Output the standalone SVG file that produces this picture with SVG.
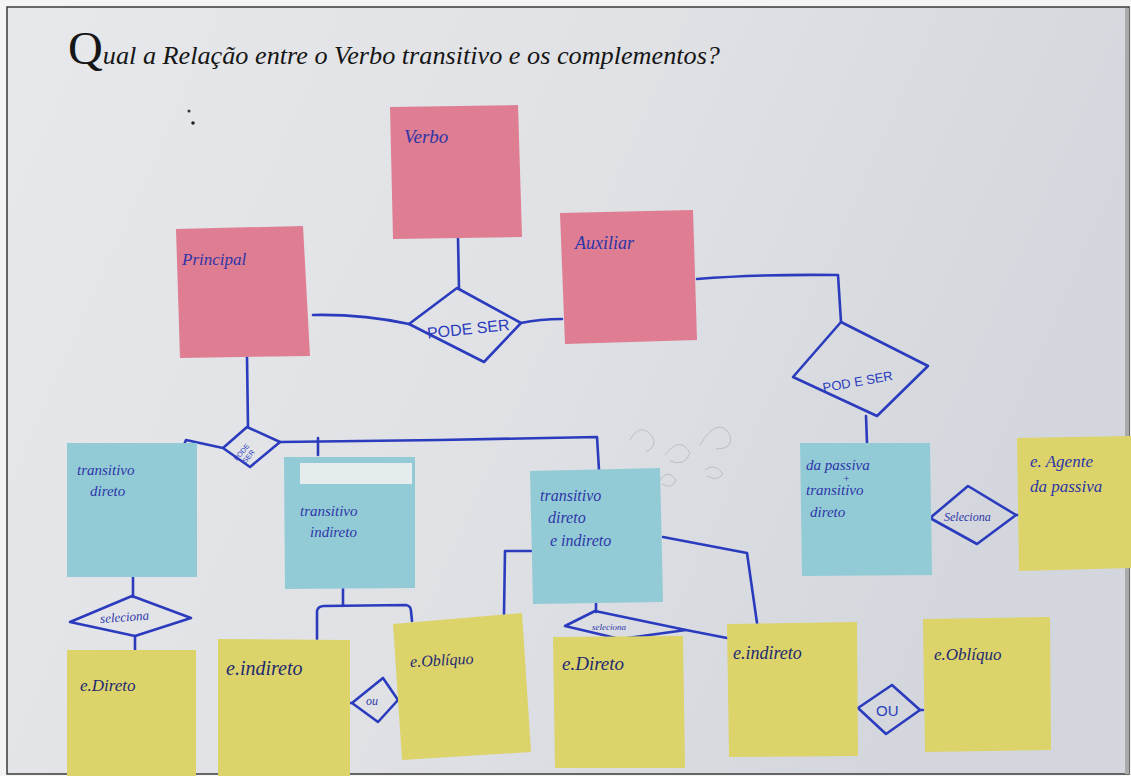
<svg xmlns="http://www.w3.org/2000/svg" width="1131" height="776" viewBox="0 0 1131 776">
  <defs>
    <linearGradient id="board" x1="0" y1="0" x2="1" y2="0.3">
      <stop offset="0" stop-color="#e7e8ec"/>
      <stop offset="0.55" stop-color="#dfe1e5"/>
      <stop offset="1" stop-color="#d3d6dc"/>
    </linearGradient>
    <style>
      .ink { fill: none; stroke: #2b3bbd; stroke-width: 2.6; stroke-linejoin: round; stroke-linecap: round; }
      .pink { fill: #df7d92; }
      .blue { fill: #92cbd6; }
      .yellow { fill: #dcd36a; }
      .diamond { fill: none; stroke: #2b3bbd; stroke-width: 2.6; stroke-linejoin: round; }
      .hand { font-family: "Liberation Serif", "DejaVu Serif", serif; font-style: italic; fill: #2d35a8; }
      .dark { font-family: "Liberation Serif", "DejaVu Serif", serif; font-style: italic; fill: #1f2a70; }
      .caps { font-family: "Liberation Sans", "DejaVu Sans", sans-serif; fill: #2b3bbd; }
      .title { font-family: "Liberation Serif", "DejaVu Serif", serif; font-style: italic; fill: #161616; }
    </style>
  </defs>

  <!-- photo frame and whiteboard -->
  <rect x="0" y="0" width="1131" height="776" fill="#f4f4f4"/>
  <rect x="7" y="7" width="1122" height="767" fill="url(#board)" stroke="#3a3a3a" stroke-width="1.5"/>
  <rect x="1125" y="8" width="4" height="766" fill="#a9aaaa"/>

  <!-- faint erased scribbles on the board -->
  <g fill="none" stroke="#8e9096" stroke-width="1" opacity="0.4">
    <path d="M630,440 q10,-18 22,-4 q6,10 -6,16 M665,455 q15,-20 25,-2 q-5,14 -20,8 M700,445 q18,-30 30,-10 q4,14 -14,14"/>
    <path d="M660,480 q8,-12 16,0 q-4,10 -14,4 M705,470 q10,-8 18,4 q-6,8 -16,2 M640,500 q12,-6 20,4"/>
  </g>
  <circle cx="189" cy="111" r="1.5" fill="#333"/>
  <circle cx="193" cy="123" r="1.8" fill="#222"/>

  <!-- heading -->
  <g id="title">
    <text class="title" x="68" y="64" font-size="25" textLength="652" lengthAdjust="spacingAndGlyphs"><tspan font-size="46" font-style="normal">Q</tspan>ual a Relação entre o Verbo transitivo e os complementos?</text>
  </g>

  <!-- connectors -->
  <g id="connectors" class="ink">
    <path d="M458,238 L459,289"/>
    <path d="M313,315 Q362,314 409,324"/>
    <path d="M521,323 Q540,319 562,319"/>
    <path d="M697,279 Q760,274 838,275 L841,322"/>
    <path d="M866,416 L867,443"/>
    <path d="M932,517 L930,518"/>
    <path d="M1016,515 L1019,515"/>
    <path d="M247,357 L248,427"/>
    <path d="M223,448 L186,440 L184,445"/>
    <path d="M280,442 L440,440 L597,437 L599,470"/>
    <path d="M318,438 L318,455"/>
    <path d="M133,577 L133,597"/>
    <path d="M135,636 L135,650"/>
    <path d="M343,588 L343,606"/>
    <path d="M317,639 L317,611 Q318,606 324,606 L406,605 Q411,606 411,611 L412,621"/>
    <path d="M350,703 L352,703"/>
    <path d="M398,700 L400,700"/>
    <path d="M531,551 L505,551 L504,614"/>
    <path d="M663,537 L747,553 L757,623"/>
    <path d="M596,603 L596,612"/>
    <path d="M686,630 L727,638"/>
    <path d="M856,708 L858,708"/>
    <path d="M920,710 L923,710"/>
  </g>

  <!-- pink notes -->
  <g id="verbo">
    <polygon class="pink" points="390,107 518,105 522,237 393,239"/>
    <text class="hand" x="404" y="143" font-size="19">Verbo</text>
  </g>
  <g id="principal">
    <polygon class="pink" points="176,229 303,226 310,356 180,358"/>
    <text class="hand" x="182" y="265" font-size="17">Principal</text>
  </g>
  <g id="auxiliar">
    <polygon class="pink" points="560,213 693,210 697,340 565,344"/>
    <text class="hand" x="575" y="249" font-size="18">Auxiliar</text>
  </g>

  <!-- relationship diamonds -->
  <g id="pode-ser-1">
    <polygon class="diamond" points="457,288 521,323 484,362 409,324"/>
    <text class="caps" x="427" y="335" font-size="16" transform="rotate(-6 462 330)">PODE SER</text>
  </g>
  <g id="pode-ser-2">
    <polygon class="diamond" points="247,427 280,442 250,467 223,448"/>
    <text class="caps" font-size="7" transform="translate(245,455) rotate(-50)"><tspan x="-10" y="-2">PODE</tspan><tspan x="-6" y="6">SER</tspan></text>
  </g>
  <g id="pode-ser-3">
    <polygon class="diamond" points="841,322 928,366 877,416 793,377"/>
    <text class="caps" x="822" y="386" font-size="13" transform="rotate(-10 858 380)">POD E SER</text>
  </g>
  <g id="seleciona-1">
    <polygon class="diamond" points="70,622 132,596 191,618 135,636"/>
    <text class="hand" x="100" y="621" font-size="13" transform="rotate(-4 130 617)">seleciona</text>
  </g>
  <g id="seleciona-2">
    <polygon class="diamond" points="565,626 595,611 686,630 620,639"/>
    <text class="hand" x="592" y="630" font-size="9">seleciona</text>
  </g>
  <g id="seleciona-3">
    <polygon class="diamond" points="968,486 1016,515 977,544 930,518"/>
    <text class="hand" x="944" y="521" font-size="12">Seleciona</text>
  </g>
  <g id="ou-1">
    <polygon class="diamond" points="383,678 398,700 378,722 352,703"/>
    <text class="hand" x="366" y="705" font-size="12">ou</text>
  </g>
  <g id="ou-2">
    <polygon class="diamond" points="892,685 920,710 886,734 858,708"/>
    <text class="caps" x="876" y="716" font-size="15">OU</text>
  </g>

  <!-- blue notes -->
  <g id="transitivo-direto">
    <polygon class="blue" points="67,443 197,443 197,577 67,577"/>
    <text class="hand" font-size="15"><tspan x="77" y="475">transitivo</tspan><tspan x="90" y="496">direto</tspan></text>
  </g>
  <g id="transitivo-indireto">
    <polygon class="blue" points="284,457 415,457 415,588 285,589"/>
    <rect x="300" y="463" width="112" height="21" fill="#eef0f1" opacity="0.9"/>
    <text class="hand" font-size="15"><tspan x="300" y="516">transitivo</tspan><tspan x="310" y="537">indireto</tspan></text>
  </g>
  <g id="transitivo-direto-e-indireto">
    <polygon class="blue" points="530,471 660,468 663,602 533,604"/>
    <text class="hand" font-size="16"><tspan x="540" y="501">transitivo</tspan><tspan x="548" y="523">direto</tspan><tspan x="550" y="546">e indireto</tspan></text>
  </g>
  <g id="da-passiva">
    <polygon class="blue" points="800,443 930,443 932,575 802,576"/>
    <text class="hand" font-size="15"><tspan x="806" y="470">da passiva</tspan><tspan x="843" y="482" font-size="10">+</tspan><tspan x="806" y="495">transitivo</tspan><tspan x="810" y="517">direto</tspan></text>
  </g>

  <!-- yellow notes -->
  <g id="agente-da-passiva">
    <polygon class="yellow" points="1017,438 1131,436 1131,568 1019,571"/>
    <text class="hand" font-size="17"><tspan x="1030" y="467">e. Agente</tspan><tspan x="1030" y="492">da passiva</tspan></text>
  </g>
  <g id="direto-1">
    <polygon class="yellow" points="67,650 196,650 196,776 67,776"/>
    <text class="dark" x="80" y="691" font-size="17">e.Direto</text>
  </g>
  <g id="indireto-1">
    <polygon class="yellow" points="218,639 350,640 350,776 218,776"/>
    <text class="dark" x="226" y="675" font-size="20">e.indireto</text>
  </g>
  <g id="obliquo-1">
    <polygon class="yellow" points="393,624 522,613 531,752 402,760"/>
    <text class="dark" x="410" y="665" font-size="16" transform="rotate(-3 450 660)">e.Oblíquo</text>
  </g>
  <g id="direto-2">
    <polygon class="yellow" points="553,637 683,636 685,768 555,768"/>
    <text class="dark" x="562" y="670" font-size="19">e.Direto</text>
  </g>
  <g id="indireto-2">
    <polygon class="yellow" points="727,624 857,622 858,756 729,757"/>
    <text class="dark" x="733" y="659" font-size="18">e.indireto</text>
  </g>
  <g id="obliquo-2">
    <polygon class="yellow" points="923,619 1050,617 1051,750 925,752"/>
    <text class="dark" x="934" y="660" font-size="17">e.Oblíquo</text>
  </g>
</svg>
